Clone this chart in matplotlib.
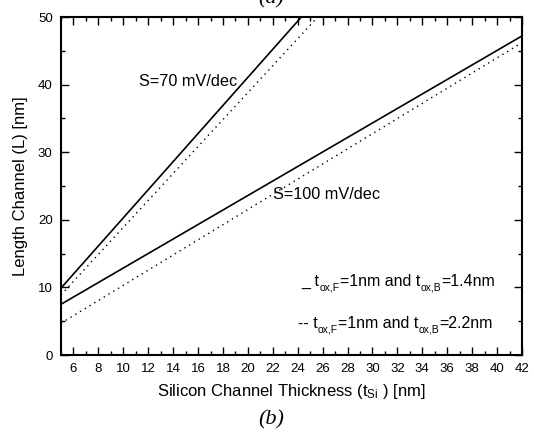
import matplotlib
matplotlib.use("Agg")
import matplotlib.pyplot as plt
import numpy as np
from matplotlib.ticker import MultipleLocator

plt.rcParams['font.family'] = ['Liberation Sans', 'DejaVu Sans']
plt.rcParams['mathtext.fontset'] = 'custom'
plt.rcParams['mathtext.rm'] = 'Liberation Sans'
plt.rcParams['mathtext.it'] = 'Liberation Sans'

# Data: endpoints of linear relations L vs t_Si
x_pts = [5, 42]
s70_solid = [9.9, 86.8]
s70_dotted = [8.9, 82.7]
s100_solid = [7.5, 47.2]
s100_dotted = [4.7, 46.2]

fig = plt.figure(figsize=(5.34, 4.34), dpi=100)
ax = fig.add_axes([61/534, 1-355/434, (522-61)/534, (355-17)/434])

ax.plot(x_pts, s70_solid, color='black', lw=1.2)
ax.plot(x_pts, s70_dotted, color='black', lw=1.0, linestyle=(0, (1, 3)))
ax.plot(x_pts, s100_solid, color='black', lw=1.2)
ax.plot(x_pts, s100_dotted, color='black', lw=1.0, linestyle=(0, (1, 3)))

ax.set_xlim(5, 42)
ax.set_ylim(0, 50)
ax.set_xticks(np.arange(6, 43, 2))
ax.xaxis.set_minor_locator(MultipleLocator(1))
ax.yaxis.set_major_locator(MultipleLocator(10))
ax.yaxis.set_minor_locator(MultipleLocator(5))
ax.tick_params(which='both', direction='in', top=True, right=True, labelsize=9.5, pad=6)
ax.tick_params(which='major', length=6, width=1.0)
ax.tick_params(which='minor', length=3, width=1.0)
for sp in ax.spines.values():
    sp.set_linewidth(1.5)

ax.set_xlabel(r"Silicon Channel Thickness (t$_{\rm Si}$ ) [nm]", fontsize=12, labelpad=5)
ax.set_ylabel("Length Channel (L) [nm]", fontsize=12, labelpad=7)

ax.text(11.3, 40.4, "S=70 mV/dec", fontsize=11.7, va='center', ha='left')
ax.text(22.0, 23.7, "S=100 mV/dec", fontsize=11.7, va='center', ha='left')


def rich(ax, x, y, pieces, fs, sub_fs, sub_off=-2.0):
    base = ax.text(x, y, pieces[0][0], fontsize=fs, va='bottom', ha='left')
    last = base
    last_normal = base
    for s, kind in pieces[1:]:
        if kind == 'sub':
            t = ax.annotate(s, xy=(1, 0), xycoords=(last, last_normal),
                            xytext=(0.3, sub_off), textcoords='offset points',
                            fontsize=sub_fs, va='bottom', ha='left')
        else:
            t = ax.annotate(s, xy=(1, 0), xycoords=(last, last_normal),
                            fontsize=fs, va='bottom', ha='left')
            last_normal = t
        last = t


leg_fs = 11.5
sub_fs = 7.5
rich(ax, 24.3, 9.7, [("_ t", 'n'), ("ox,F", 'sub'), ("=1nm and t", 'n'), ("ox,B", 'sub'), ("=1.4nm", 'n')], leg_fs, sub_fs)
rich(ax, 24.0, 3.5, [("-- t", 'n'), ("ox,F", 'sub'), ("=1nm and t", 'n'), ("ox,B", 'sub'), ("=2.2nm", 'n')], leg_fs, sub_fs)

fig.text(0.508, 1-3/434, "(a)", fontsize=16, fontfamily='Liberation Serif', fontstyle='italic', ha='center', va='baseline')
fig.text(0.508, 1-420/434, "(b)", fontsize=16, fontfamily='Liberation Serif', fontstyle='italic', ha='center', va='center')

fig.savefig("out.png", dpi=100)
